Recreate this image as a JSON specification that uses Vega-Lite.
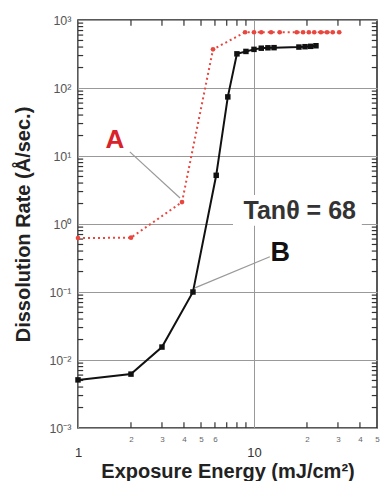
{
  "$schema": "https://vega.github.io/schema/vega-lite/v6.json",
  "autosize": "none",
  "width": 299,
  "height": 408,
  "padding": {"left": 78, "top": 20, "right": 5, "bottom": 53},
  "background": "white",
  "config": {
    "view": {"stroke": "#222", "strokeWidth": 1.5},
    "axis": {"grid": false, "domain": false, "labelFont": "Liberation Sans", "titleFont": "Liberation Sans", "labelFlush": false, "labelOverlap": false}
  },
  "datasets": {
    "black": [
      {"x": 1, "y": 0.0051}, {"x": 2, "y": 0.0062}, {"x": 3, "y": 0.0155}, {"x": 4.5, "y": 0.1},
      {"x": 6.1, "y": 5.2}, {"x": 7.1, "y": 74}, {"x": 8, "y": 318}, {"x": 9, "y": 345},
      {"x": 10, "y": 370}, {"x": 11, "y": 385}, {"x": 12, "y": 390}, {"x": 13, "y": 392},
      {"x": 18, "y": 400}, {"x": 19.5, "y": 405}, {"x": 21, "y": 410}, {"x": 22.5, "y": 418}
    ],
    "red": [
      {"x": 1, "y": 0.62}, {"x": 2, "y": 0.63}, {"x": 3.9, "y": 2.1}, {"x": 5.85, "y": 370},
      {"x": 8.9, "y": 660}, {"x": 10, "y": 660}, {"x": 11, "y": 660}, {"x": 12.5, "y": 660},
      {"x": 14, "y": 660}, {"x": 17.5, "y": 660}, {"x": 19, "y": 660}, {"x": 20.5, "y": 660},
      {"x": 22, "y": 660}, {"x": 24, "y": 660}, {"x": 26, "y": 660}, {"x": 28, "y": 660}, {"x": 30.5, "y": 660}
    ],
    "xminor": [{"v": 2}, {"v": 3}, {"v": 4}, {"v": 5}, {"v": 6}, {"v": 7}, {"v": 8}, {"v": 9}, {"v": 20}, {"v": 30}, {"v": 40}],
    "yminor": [
      {"v": 0.002}, {"v": 0.003}, {"v": 0.004}, {"v": 0.005}, {"v": 0.006}, {"v": 0.007}, {"v": 0.008}, {"v": 0.009},
      {"v": 0.02}, {"v": 0.03}, {"v": 0.04}, {"v": 0.05}, {"v": 0.06}, {"v": 0.07}, {"v": 0.08}, {"v": 0.09},
      {"v": 0.2}, {"v": 0.3}, {"v": 0.4}, {"v": 0.5}, {"v": 0.6}, {"v": 0.7}, {"v": 0.8}, {"v": 0.9},
      {"v": 2}, {"v": 3}, {"v": 4}, {"v": 5}, {"v": 6}, {"v": 7}, {"v": 8}, {"v": 9},
      {"v": 20}, {"v": 30}, {"v": 40}, {"v": 50}, {"v": 60}, {"v": 70}, {"v": 80}, {"v": 90},
      {"v": 200}, {"v": 300}, {"v": 400}, {"v": 500}, {"v": 600}, {"v": 700}, {"v": 800}, {"v": 900}
    ]
  },
  "resolve": {"axis": {"x": "independent", "y": "independent"}},
  "layer": [
    {
      "data": {"values": [{"x": 7.6, "x2": 41, "y": 0.94, "y2": 2.67}]},
      "mark": {"type": "rect", "fill": "white"},
      "encoding": {
        "x": {"field": "x", "type": "quantitative", "scale": {"type": "log", "domain": [1, 50], "nice": false},
          "axis": {"orient": "bottom", "values": [1, 10], "labelExpr": "datum.value < 5 ? '1' : '10'", "labelFontSize": 13, "labelColor": "#333", "labelPadding": 18, "ticks": false, "grid": true, "gridColor": "#999", "gridOpacity": 1, "title": "Exposure Energy (mJ/cm²)", "titleFontSize": 20, "titleFontWeight": "bold", "titleColor": "#222", "titlePadding": 2}},
        "x2": {"field": "x2"},
        "y": {"field": "y", "type": "quantitative", "scale": {"type": "log", "domain": [0.001, 1000], "nice": false},
          "axis": {"orient": "left", "values": [0.001, 0.01, 0.1, 1, 10, 100, 1000], "labelExpr": "datum.value > 500 ? '10³' : datum.value > 50 ? '10²' : datum.value > 5 ? '10¹' : datum.value > 0.5 ? '10⁰' : datum.value > 0.05 ? '10⁻¹' : datum.value > 0.005 ? '10⁻²' : '10⁻³'", "labelFontSize": 12.5, "labelColor": "#555", "labelPadding": 7, "ticks": false, "grid": true, "gridColor": "#999", "gridOpacity": 1, "title": "Dissolution Rate (Å/sec.)", "titleFontSize": 20, "titleFontWeight": "bold", "titleColor": "#222", "titlePadding": 15}},
        "y2": {"field": "y2"}
      }
    },
    {
      "data": {"name": "yminor"},
      "mark": {"type": "rule", "color": "#333", "strokeWidth": 1.2},
      "encoding": {
        "x": {"datum": 1, "type": "quantitative", "scale": {"type": "log", "domain": [1, 50], "nice": false}, "axis": null},
        "x2": {"datum": 1.07},
        "y": {"field": "v", "type": "quantitative", "scale": {"type": "log", "domain": [0.001, 1000], "nice": false}, "axis": null}
      }
    },
    {
      "data": {"name": "yminor"},
      "mark": {"type": "rule", "color": "#333", "strokeWidth": 1.2},
      "encoding": {
        "x": {"datum": 46.7, "type": "quantitative", "scale": {"type": "log", "domain": [1, 50], "nice": false}, "axis": null},
        "x2": {"datum": 50},
        "y": {"field": "v", "type": "quantitative", "scale": {"type": "log", "domain": [0.001, 1000], "nice": false}, "axis": null}
      }
    },
    {
      "data": {"name": "xminor"},
      "mark": {"type": "rule", "color": "#333", "strokeWidth": 1.2},
      "encoding": {
        "x": {"field": "v", "type": "quantitative", "scale": {"type": "log", "domain": [1, 50], "nice": false}, "axis": null},
        "y": {"datum": 0.001, "type": "quantitative", "scale": {"type": "log", "domain": [0.001, 1000], "nice": false}, "axis": null},
        "y2": {"datum": 0.00122}
      }
    },
    {
      "data": {"name": "xminor"},
      "mark": {"type": "rule", "color": "#333", "strokeWidth": 1.2},
      "encoding": {
        "x": {"field": "v", "type": "quantitative", "scale": {"type": "log", "domain": [1, 50], "nice": false}, "axis": null},
        "y": {"datum": 820, "type": "quantitative", "scale": {"type": "log", "domain": [0.001, 1000], "nice": false}, "axis": null},
        "y2": {"datum": 1000}
      }
    },
    {
      "data": {"name": "red"},
      "mark": {"type": "line", "color": "#e8473f", "strokeWidth": 2, "strokeDash": [2, 3]},
      "encoding": {
        "x": {"field": "x", "type": "quantitative", "scale": {"type": "log", "domain": [1, 50], "nice": false},
          "axis": {"orient": "bottom", "values": [2, 3, 4, 5, 6, 20, 30, 40, 50], "labelExpr": "'' + (datum.value >= 10 ? datum.value / 10 : datum.value)", "labelFontSize": 8, "labelColor": "#666", "labelPadding": 7, "ticks": false, "title": null}},
        "y": {"field": "y", "type": "quantitative", "scale": {"type": "log", "domain": [0.001, 1000], "nice": false}, "axis": null}
      }
    },
    {
      "data": {"name": "red"},
      "mark": {"type": "point", "shape": "circle", "filled": true, "color": "#e8473f", "size": 22, "opacity": 1},
      "encoding": {
        "x": {"field": "x", "type": "quantitative", "scale": {"type": "log", "domain": [1, 50], "nice": false}, "axis": null},
        "y": {"field": "y", "type": "quantitative", "scale": {"type": "log", "domain": [0.001, 1000], "nice": false}, "axis": null}
      }
    },
    {
      "data": {"name": "black"},
      "mark": {"type": "line", "color": "#111", "strokeWidth": 2},
      "encoding": {
        "x": {"field": "x", "type": "quantitative", "scale": {"type": "log", "domain": [1, 50], "nice": false}, "axis": null},
        "y": {"field": "y", "type": "quantitative", "scale": {"type": "log", "domain": [0.001, 1000], "nice": false}, "axis": null}
      }
    },
    {
      "data": {"name": "black"},
      "mark": {"type": "point", "shape": "square", "filled": true, "color": "#111", "size": 30, "opacity": 1},
      "encoding": {
        "x": {"field": "x", "type": "quantitative", "scale": {"type": "log", "domain": [1, 50], "nice": false}, "axis": null},
        "y": {"field": "y", "type": "quantitative", "scale": {"type": "log", "domain": [0.001, 1000], "nice": false}, "axis": null}
      }
    },
    {
      "data": {"values": [{"x": 1.97, "y": 11.5, "x2": 3.8, "y2": 2.41}, {"x": 12.3, "y": 0.33, "x2": 4.62, "y2": 0.115}]},
      "mark": {"type": "rule", "color": "#999", "strokeWidth": 1.2},
      "encoding": {
        "x": {"field": "x", "type": "quantitative", "scale": {"type": "log", "domain": [1, 50], "nice": false}, "axis": null},
        "y": {"field": "y", "type": "quantitative", "scale": {"type": "log", "domain": [0.001, 1000], "nice": false}, "axis": null},
        "x2": {"field": "x2"},
        "y2": {"field": "y2"}
      }
    },
    {
      "data": {"values": [{"x": 1.62, "y": 17.2, "label": "A"}]},
      "mark": {"type": "text", "font": "Liberation Sans", "fontSize": 26, "fontWeight": "bold", "color": "#d8232a", "align": "center", "baseline": "middle"},
      "encoding": {
        "x": {"field": "x", "type": "quantitative", "scale": {"type": "log", "domain": [1, 50], "nice": false}, "axis": null},
        "y": {"field": "y", "type": "quantitative", "scale": {"type": "log", "domain": [0.001, 1000], "nice": false}, "axis": null},
        "text": {"field": "label"}
      }
    },
    {
      "data": {"values": [{"x": 14.1, "y": 0.37, "label": "B"}]},
      "mark": {"type": "text", "font": "Liberation Sans", "fontSize": 27, "fontWeight": "bold", "color": "#111", "align": "center", "baseline": "middle"},
      "encoding": {
        "x": {"field": "x", "type": "quantitative", "scale": {"type": "log", "domain": [1, 50], "nice": false}, "axis": null},
        "y": {"field": "y", "type": "quantitative", "scale": {"type": "log", "domain": [0.001, 1000], "nice": false}, "axis": null},
        "text": {"field": "label"}
      }
    },
    {
      "data": {"values": [{"x": 18.2, "y": 1.55, "label": "Tanθ = 68"}]},
      "mark": {"type": "text", "font": "Liberation Sans", "fontSize": 25, "fontWeight": "bold", "color": "#333", "align": "center", "baseline": "middle"},
      "encoding": {
        "x": {"field": "x", "type": "quantitative", "scale": {"type": "log", "domain": [1, 50], "nice": false}, "axis": null},
        "y": {"field": "y", "type": "quantitative", "scale": {"type": "log", "domain": [0.001, 1000], "nice": false}, "axis": null},
        "text": {"field": "label"}
      }
    }
  ]
}
